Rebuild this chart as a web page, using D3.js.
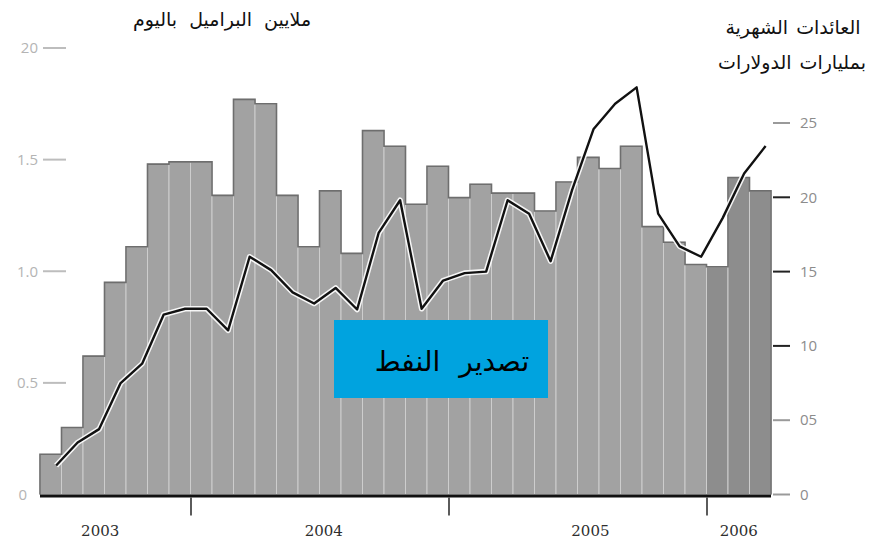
<!DOCTYPE html>
<html lang="ar">
<head>
<meta charset="utf-8">
<script src="https://cdn.jsdelivr.net/npm/d3@7"></script>
<style>
  html, body { margin: 0; padding: 0; background: #ffffff; }
  svg { display: block; }
  .year { font-family: "DejaVu Serif", "Liberation Serif", serif; }
</style>
</head>
<body>
<svg id="chart" width="881" height="542"></svg>
<script>
// Monthly categories, June 2003 to March 2006
const months = [
  "2003-06","2003-07","2003-08","2003-09","2003-10","2003-11","2003-12",
  "2004-01","2004-02","2004-03","2004-04","2004-05","2004-06",
  "2004-07","2004-08","2004-09","2004-10","2004-11","2004-12",
  "2005-01","2005-02","2005-03","2005-04","2005-05","2005-06",
  "2005-07","2005-08","2005-09","2005-10","2005-11","2005-12",
  "2006-01","2006-02","2006-03"
];

// Oil exports, million barrels per day (bars, left axis)
const exportsMbd = [
  0.18, 0.30, 0.62, 0.95, 1.11, 1.48, 1.49,
  1.49, 1.34, 1.77, 1.75, 1.34, 1.11,
  1.36, 1.08, 1.63, 1.56, 1.30, 1.47,
  1.33, 1.39, 1.35, 1.35, 1.27, 1.40,
  1.51, 1.46, 1.56, 1.20, 1.13, 1.03,
  1.02, 1.42, 1.36
];

// Monthly revenue, billions of dollars (line, right axis)
const revenueBn = [
  1.95, 3.5, 4.4, 7.5, 8.8, 12.1, 12.5,
  12.5, 11.05, 16.0, 15.1, 13.6, 12.85,
  13.9, 12.45, 17.6, 19.8, 12.5, 14.4,
  14.9, 15.0, 19.8, 18.9, 15.7, 20.5,
  24.6, 26.3, 27.4, 18.9, 16.7, 16.0,
  18.6, 21.6, 23.45
];

// Axis ticks and their printed labels
const leftTicks = [0, 0.5, 1.0, 1.5, 2.0];
const leftTickLabels = ["0", "0.5", "1.0", "1.5", "20"];
const rightTicks = [0, 5, 10, 15, 20, 25];
const rightTickLabels = ["0", "05", "10", "15", "20", "25"];

// Year boundaries (first month of each year) and label anchors (month index)
const yearStarts = ["2004-01", "2005-01", "2006-01"];
const years = ["2003", "2004", "2005", "2006"];
const yearLabelAt = [2.8, 13.2, 25.6, 32.5];

const titleLeft = "ملايين البراميل باليوم";
const titleRight1 = "العائدات الشهرية";
const titleRight2 = "بمليارات الدولارات";
const boxLabel = "تصدير النفط";

const svg = d3.select("#chart");

const plotLeft = 40, plotRight = 771, baseY = 494.5;

const x = d3.scaleBand().domain(months).range([plotLeft, plotRight]).padding(0);
const bw = x.bandwidth();
const yL = d3.scaleLinear().domain([0, 2]).range([baseY, 48]);
const yR = d3.scaleLinear().domain([0, 25]).range([baseY, 123]);

// Bars
const barG = svg.append("g");
barG.selectAll("rect")
  .data(months)
  .join("rect")
  .attr("x", d => x(d))
  .attr("y", (d, i) => yL(exportsMbd[i]))
  .attr("width", bw)
  .attr("height", (d, i) => baseY - yL(exportsMbd[i]))
  .attr("fill", d => d.startsWith("2006") ? "#8d8d8d" : "#a2a2a2")
  .attr("stroke", "#cdcdcd")
  .attr("stroke-width", 1);

// Dark stepped outline along the bar tops
const outlinePts = [[plotLeft, baseY]];
months.forEach((m, i) => {
  outlinePts.push([x(m), yL(exportsMbd[i])]);
  outlinePts.push([x(m) + bw, yL(exportsMbd[i])]);
});
outlinePts.push([plotRight, baseY]);
barG.append("path")
  .attr("d", d3.line()(outlinePts))
  .attr("fill", "none")
  .attr("stroke", "#6e6e6e")
  .attr("stroke-width", 1.6)
  .attr("stroke-linejoin", "miter");

// Left axis (light grey)
const leftAxis = svg.append("g");
leftTicks.forEach((t, i) => {
  if (t > 0) {
    leftAxis.append("line")
      .attr("x1", 43).attr("x2", 66)
      .attr("y1", yL(t)).attr("y2", yL(t))
      .attr("stroke", "#bdbdbd").attr("stroke-width", 2);
  }
  leftAxis.append("text")
    .attr("x", t > 0 ? 38 : 27)
    .attr("y", yL(t))
    .attr("dy", "0.35em")
    .attr("text-anchor", "end")
    .attr("font-family", "'Open Sans', 'DejaVu Sans', sans-serif")
    .attr("font-size", 15)
    .attr("fill", "#b4b4b4")
    .text(leftTickLabels[i]);
});

// Right axis
const rightAxis = svg.append("g");
rightTicks.forEach((t, i) => {
  const strong = t >= 10 && t <= 20;
  rightAxis.append("line")
    .attr("x1", 773).attr("x2", 790)
    .attr("y1", yR(t)).attr("y2", yR(t))
    .attr("stroke", strong ? "#222" : "#9a9a9a")
    .attr("stroke-width", 2);
  rightAxis.append("text")
    .attr("x", 800)
    .attr("y", yR(t))
    .attr("dy", "0.35em")
    .attr("font-family", "'Open Sans', 'DejaVu Sans', sans-serif")
    .attr("font-size", 15)
    .attr("fill", "#8c8c8c")
    .text(rightTickLabels[i]);
});

// Baseline and year ticks
svg.append("line")
  .attr("x1", plotLeft).attr("x2", plotRight)
  .attr("y1", baseY + 1.5).attr("y2", baseY + 1.5)
  .attr("stroke", "#111").attr("stroke-width", 3);

yearStarts.forEach(m => {
  svg.append("line")
    .attr("x1", x(m) + 0.5).attr("x2", x(m) + 0.5)
    .attr("y1", baseY + 3).attr("y2", baseY + 21)
    .attr("stroke", "#333").attr("stroke-width", 1.6);
});

svg.append("g").selectAll("text")
  .data(years)
  .join("text")
  .attr("class", "year")
  .attr("x", (d, i) => plotLeft + yearLabelAt[i] * bw)
  .attr("y", 536)
  .attr("text-anchor", "middle")
  .attr("font-size", 15)
  .attr("fill", "#2e2e2e")
  .text(d => d);

// Revenue line with white halo
const lineGen = d3.line()
  .x((d, i) => x(months[i]) + bw * 0.75)
  .y(d => yR(d));

svg.append("path")
  .attr("d", lineGen(revenueBn))
  .attr("fill", "none")
  .attr("stroke", "#ffffff")
  .attr("stroke-width", 5.5)
  .attr("stroke-linejoin", "round")
  .attr("stroke-opacity", 0.9);
svg.append("path")
  .attr("d", lineGen(revenueBn))
  .attr("fill", "none")
  .attr("stroke", "#111")
  .attr("stroke-width", 2.4)
  .attr("stroke-linejoin", "round");

// Titles
const arabicFont = "'DejaVu Sans', 'Noto Sans', sans-serif";
svg.append("text")
  .attr("x", 222).attr("y", 26)
  .attr("text-anchor", "middle")
  .attr("font-family", arabicFont)
  .attr("font-size", 19)
  .attr("word-spacing", 6)
  .attr("fill", "#111")
  .text(titleLeft);
svg.append("text")
  .attr("x", 793).attr("y", 34)
  .attr("text-anchor", "middle")
  .attr("font-family", arabicFont)
  .attr("font-size", 19)
  .attr("word-spacing", 2)
  .attr("fill", "#111")
  .text(titleRight1);
svg.append("text")
  .attr("x", 792).attr("y", 69)
  .attr("text-anchor", "middle")
  .attr("font-family", arabicFont)
  .attr("font-size", 19)
  .attr("word-spacing", 2)
  .attr("fill", "#111")
  .text(titleRight2);

// Label box
svg.append("rect")
  .attr("x", 334).attr("y", 320)
  .attr("width", 214).attr("height", 78)
  .attr("fill", "#00a3df");
svg.append("text")
  .attr("x", 452).attr("y", 371)
  .attr("text-anchor", "middle")
  .attr("font-family", arabicFont)
  .attr("font-size", 28)
  .attr("word-spacing", 10)
  .attr("fill", "#000")
  .text(boxLabel);
</script>
</body>
</html>
